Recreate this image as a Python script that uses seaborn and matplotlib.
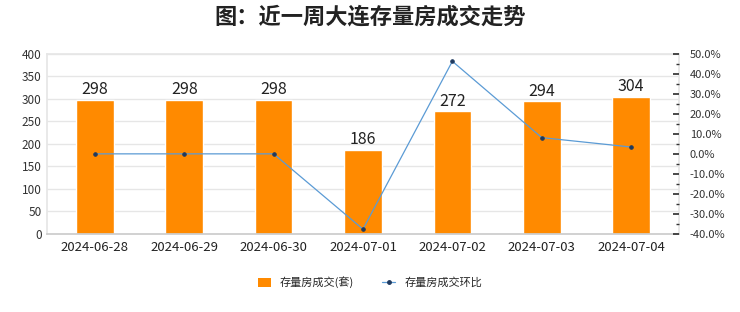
import matplotlib
matplotlib.use("Agg")
import matplotlib.pyplot as plt
import seaborn as sns
import pandas as pd
import numpy as np
from matplotlib.ticker import MultipleLocator, FuncFormatter
from matplotlib.lines import Line2D
from matplotlib.patches import Patch

dates = ["2024-06-28", "2024-06-29", "2024-06-30", "2024-07-01", "2024-07-02", "2024-07-03", "2024-07-04"]
volume = [298, 298, 298, 186, 272, 294, 304]
mom_pct = [0.0, 0.0, 0.0, -37.6, 46.2, 8.1, 3.4]

sns.set_theme(style="white")
plt.rcParams['font.family'] = ['Noto Sans CJK SC', 'DejaVu Sans']

df = pd.DataFrame({"date": dates, "volume": volume, "mom": mom_pct})

fig = plt.figure(figsize=(7.4, 3.12), dpi=100)
ax = fig.add_axes([0.064, 0.25, 0.853, 0.578])

sns.barplot(data=df, x="date", y="volume", color="#FF8A00", saturation=1, width=0.42, ax=ax, zorder=2)
ax.set_ylim(0, 400)
ax.yaxis.set_major_locator(MultipleLocator(50))
ax.grid(axis="y", color="#E6E6E6", linewidth=1, zorder=0)
ax.set_axisbelow(True)
ax.set_xlabel("")
ax.set_ylabel("")
ax.tick_params(axis="y", labelsize=8.5, colors="#333333", length=0, pad=4)
ax.tick_params(axis="x", labelsize=9.5, colors="#222222", length=0, pad=5)
for s in ["left", "right", "top"]:
    ax.spines[s].set_color("#E6E6E6")
ax.spines["bottom"].set_color("#CCCCCC")

for i, v in enumerate(volume):
    ax.text(i, v + 4, str(v), ha="center", va="bottom", fontsize=11.5, color="#222222")

ax2 = ax.twinx()
sns.lineplot(x=np.arange(len(dates)), y=mom_pct, ax=ax2, color="#5B9BD5", linewidth=0.9,
             marker="o", markersize=2.5, markerfacecolor="#1F3A5F", markeredgecolor="#1F3A5F")
ax2.set_ylim(-40, 50)
ax2.yaxis.set_major_locator(MultipleLocator(10))
ax2.yaxis.set_minor_locator(MultipleLocator(5))
ax2.yaxis.set_major_formatter(FuncFormatter(lambda v, p: f"{v:.1f}%"))
ax2.tick_params(axis="y", which="major", labelsize=8, colors="#333333", length=4, direction="in", pad=8)
ax2.tick_params(axis="y", which="minor", length=2, direction="in", colors="#333333")
ax2.set_ylabel("")
for s in ax2.spines.values():
    s.set_visible(False)
ax2.grid(False)

fig.text(0.5, 0.945, "图：近一周大连存量房成交走势", ha="center", va="center", fontsize=16, fontweight="bold", color="#222222")

handles = [Patch(facecolor="#FF8A00", edgecolor="none"),
           Line2D([0], [0], color="#5B9BD5", linewidth=0.9, marker="o", markersize=2.5,
                  markerfacecolor="#1F3A5F", markeredgecolor="#1F3A5F")]
fig.legend(handles, ["存量房成交(套)", "存量房成交环比"], loc="center", bbox_to_anchor=(0.5, 0.095),
           ncol=2, frameon=False, fontsize=8, handlelength=1.2, handleheight=0.8, columnspacing=2.5)

fig.savefig("out.png", dpi=100)
